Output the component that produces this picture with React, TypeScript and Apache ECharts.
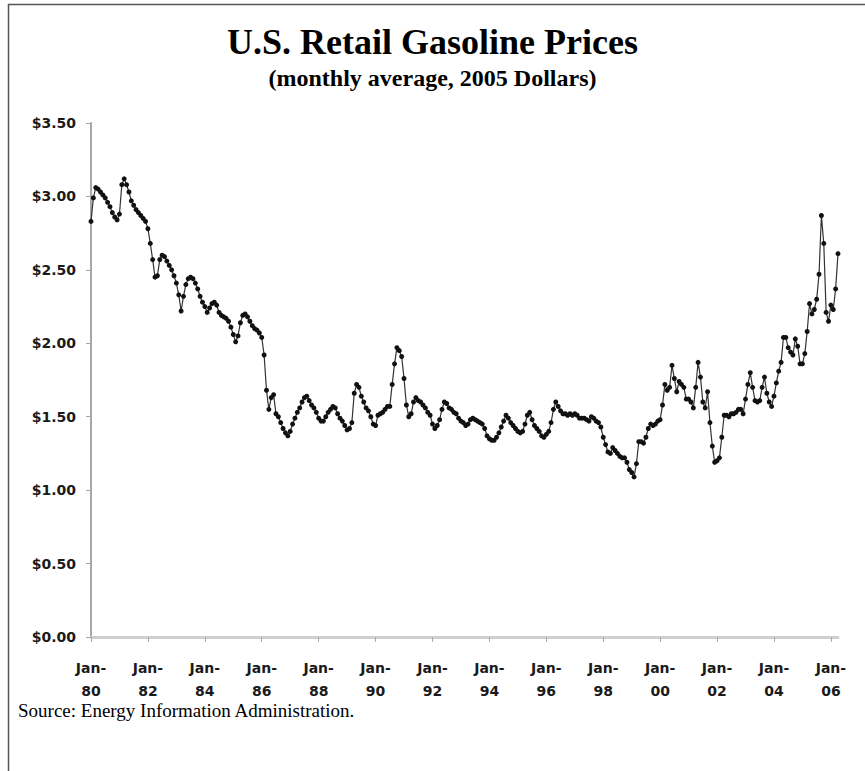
import React, { useEffect, useRef } from "react";
import * as echarts from "echarts";

const MONTHS = ["Jan", "Feb", "Mar", "Apr", "May", "Jun", "Jul", "Aug", "Sep", "Oct", "Nov", "Dec"];
const FIRST_YEAR = 1980;

const y1980 = [2.83, 2.99, 3.06, 3.05, 3.03, 3.01, 2.99, 2.96, 2.93, 2.89, 2.86, 2.84];
const y1981 = [2.88, 3.08, 3.12, 3.08, 3.03, 2.97, 2.94, 2.91, 2.89, 2.87, 2.85, 2.83];
const y1982 = [2.78, 2.68, 2.57, 2.45, 2.46, 2.57, 2.60, 2.59, 2.56, 2.53, 2.50, 2.46];
const y1983 = [2.41, 2.33, 2.22, 2.32, 2.40, 2.44, 2.45, 2.44, 2.41, 2.37, 2.32, 2.28];
const y1984 = [2.25, 2.21, 2.24, 2.27, 2.28, 2.26, 2.21, 2.19, 2.18, 2.17, 2.15, 2.11];
const y1985 = [2.06, 2.01, 2.05, 2.14, 2.19, 2.20, 2.18, 2.15, 2.12, 2.10, 2.09, 2.07];
const y1986 = [2.04, 1.92, 1.68, 1.55, 1.63, 1.65, 1.52, 1.50, 1.46, 1.42, 1.39, 1.37];
const y1987 = [1.40, 1.45, 1.49, 1.53, 1.56, 1.60, 1.63, 1.64, 1.61, 1.58, 1.56, 1.53];
const y1988 = [1.49, 1.47, 1.47, 1.50, 1.53, 1.55, 1.57, 1.56, 1.52, 1.49, 1.47, 1.44];
const y1989 = [1.41, 1.42, 1.46, 1.66, 1.72, 1.70, 1.64, 1.60, 1.56, 1.54, 1.50, 1.45];
const y1990 = [1.44, 1.51, 1.52, 1.53, 1.55, 1.57, 1.57, 1.72, 1.86, 1.97, 1.95, 1.91];
const y1991 = [1.76, 1.58, 1.50, 1.52, 1.60, 1.63, 1.61, 1.60, 1.58, 1.56, 1.53, 1.51];
const y1992 = [1.45, 1.42, 1.44, 1.48, 1.55, 1.60, 1.59, 1.56, 1.55, 1.53, 1.52, 1.49];
const y1993 = [1.47, 1.46, 1.44, 1.45, 1.48, 1.49, 1.48, 1.47, 1.46, 1.45, 1.42, 1.37];
const y1994 = [1.35, 1.34, 1.34, 1.36, 1.39, 1.43, 1.47, 1.51, 1.49, 1.46, 1.44, 1.42];
const y1995 = [1.40, 1.39, 1.40, 1.45, 1.51, 1.53, 1.48, 1.44, 1.42, 1.40, 1.37, 1.36];
const y1996 = [1.38, 1.40, 1.46, 1.55, 1.60, 1.57, 1.54, 1.52, 1.52, 1.51, 1.52, 1.51];
const y1997 = [1.52, 1.51, 1.49, 1.49, 1.49, 1.48, 1.47, 1.50, 1.49, 1.47, 1.46, 1.43];
const y1998 = [1.36, 1.31, 1.26, 1.25, 1.29, 1.27, 1.25, 1.23, 1.22, 1.22, 1.19, 1.14];
const y1999 = [1.12, 1.09, 1.18, 1.33, 1.33, 1.32, 1.36, 1.42, 1.45, 1.44, 1.45, 1.47];
const y2000 = [1.48, 1.58, 1.72, 1.68, 1.70, 1.85, 1.76, 1.67, 1.74, 1.72, 1.70, 1.62];
const y2001 = [1.62, 1.60, 1.56, 1.70, 1.87, 1.77, 1.60, 1.56, 1.67, 1.46, 1.30, 1.19];
const y2002 = [1.20, 1.22, 1.36, 1.51, 1.51, 1.50, 1.52, 1.52, 1.53, 1.55, 1.55, 1.52];
const y2003 = [1.62, 1.72, 1.80, 1.70, 1.61, 1.60, 1.61, 1.70, 1.77, 1.66, 1.60, 1.57];
const y2004 = [1.64, 1.73, 1.81, 1.87, 2.04, 2.04, 1.97, 1.94, 1.92, 2.03, 1.98, 1.86];
const y2005 = [1.86, 1.93, 2.08, 2.27, 2.20, 2.23, 2.30, 2.47, 2.87, 2.68, 2.21, 2.15];
const y2006 = [2.26, 2.23, 2.37, 2.61];

const prices: number[] = [].concat(
  y1980, y1981, y1982, y1983, y1984, y1985, y1986, y1987, y1988, y1989,
  y1990, y1991, y1992, y1993, y1994, y1995, y1996, y1997, y1998, y1999,
  y2000, y2001, y2002, y2003, y2004, y2005, y2006
);

const categories: string[] = prices.map((_, i) => {
  const yr = FIRST_YEAR + Math.floor(i / 12);
  return MONTHS[i % 12] + "-" + String(yr % 100).padStart(2, "0");
});

const TITLE = "U.S. Retail Gasoline Prices";
const SUBTITLE = "(monthly average, 2005 Dollars)";
const SOURCE = "Source: Energy Information Administration.";

export default function App() {
  const ref = useRef<HTMLDivElement>(null);
  useEffect(() => {
    if (!ref.current) return;
    const chart = echarts.init(ref.current, null, { renderer: "svg" });
    const labelFont = '"DejaVu Sans", sans-serif';
    chart.setOption({
      animation: false,
      backgroundColor: "#ffffff",
      grid: { left: 91, right: 27, top: 123, bottom: 134, containLabel: false },
      xAxis: {
        type: "category",
        data: categories,
        boundaryGap: false,
        axisLine: { show: true, lineStyle: { color: "#cfcfcf", width: 3 } },
        axisTick: {
          show: true,
          interval: (i: number) => i % 24 === 0,
          length: 5,
          lineStyle: { color: "#aaaaaa", width: 1 },
        },
        axisLabel: {
          interval: (i: number) => i % 24 === 0,
          formatter: (v: string) => v.replace("-", "-\n"),
          color: "#1a1a1a",
          fontFamily: labelFont,
          fontWeight: "bold",
          fontSize: 14,
          lineHeight: 23,
          margin: 19,
        },
        splitLine: { show: false },
      },
      yAxis: {
        type: "value",
        min: 0,
        max: 3.5,
        interval: 0.5,
        axisLine: { show: true, lineStyle: { color: "#a8a8a8", width: 2 } },
        axisTick: { show: true, length: 5, lineStyle: { color: "#a8a8a8", width: 1 } },
        axisLabel: {
          formatter: (v: number) => "$" + v.toFixed(2),
          color: "#1a1a1a",
          fontFamily: labelFont,
          fontWeight: "bold",
          fontSize: 14,
          margin: 15,
        },
        splitLine: { show: false },
      },
      series: [
        {
          type: "line",
          data: prices,
          symbol: "circle",
          symbolSize: 5,
          showAllSymbol: true,
          itemStyle: { color: "#111111" },
          lineStyle: { color: "#333333", width: 1.2 },
        },
      ],
      graphic: [
        { type: "line", shape: { x1: 8.5, y1: 4, x2: 8.5, y2: 771 }, style: { stroke: "#555", lineWidth: 1.5 } },
        { type: "line", shape: { x1: 8, y1: 4.5, x2: 865, y2: 4.5 }, style: { stroke: "#555", lineWidth: 1.5 } },
        {
          type: "text",
          left: "center",
          top: 24,
          style: { text: TITLE, font: 'bold 36px "Liberation Serif", serif', fill: "#000" },
        },
        {
          type: "text",
          left: "center",
          top: 66,
          style: { text: SUBTITLE, font: 'bold 24px "Liberation Serif", serif', fill: "#000" },
        },
        {
          type: "text",
          left: 18,
          top: 701,
          style: { text: SOURCE, font: '19px "Liberation Serif", serif', fill: "#000" },
        },
      ],
    });
    return () => chart.dispose();
  }, []);
  return (
    <div
      ref={ref}
      style={{ position: "absolute", left: 0, top: 0, width: 865, height: 771 }}
    />
  );
}
